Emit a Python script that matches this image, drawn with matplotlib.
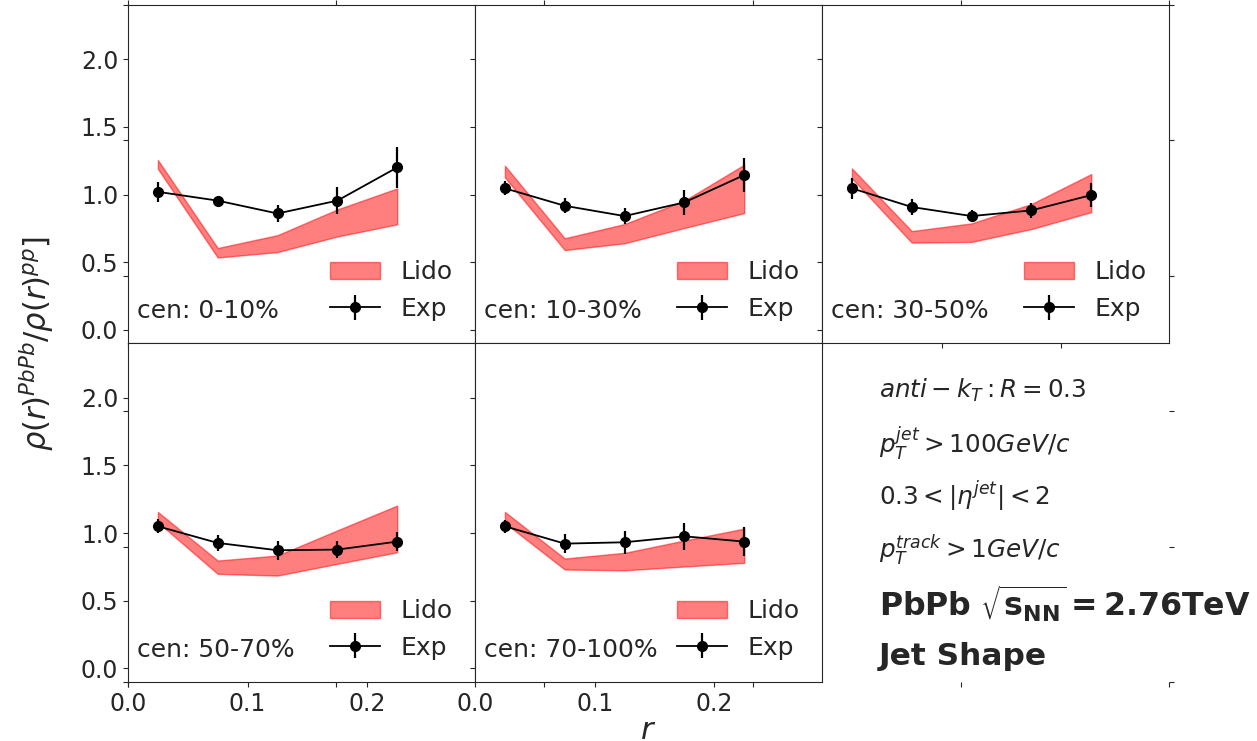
import matplotlib.pyplot as plt
import matplotlib as mpl

# Global text style
mpl.rcParams['font.family'] = 'DejaVu Sans'
mpl.rcParams['font.size'] = 16
mpl.rcParams['text.color'] = '#262626'
mpl.rcParams['axes.labelcolor'] = '#262626'
mpl.rcParams['axes.edgecolor'] = '#262626'
mpl.rcParams['xtick.color'] = '#262626'
mpl.rcParams['ytick.color'] = '#262626'
mpl.rcParams['xtick.labelsize'] = 17
mpl.rcParams['ytick.labelsize'] = 17

r = [0.025, 0.075, 0.125, 0.175, 0.225]

centralities = ['0-10%', '10-30%', '30-50%', '50-70%', '70-100%']

exp_val = [
    [1.02, 0.955, 0.86, 0.955, 1.20],
    [1.046, 0.917, 0.841, 0.942, 1.144],
    [1.046, 0.908, 0.841, 0.883, 0.996],
    [1.05, 0.927, 0.873, 0.878, 0.937],
    [1.05, 0.922, 0.932, 0.976, 0.937],
]
exp_err = [
    [0.076, 0.03, 0.06, 0.10, 0.15],
    [0.053, 0.054, 0.059, 0.094, 0.125],
    [0.076, 0.059, 0.043, 0.053, 0.09],
    [0.052, 0.061, 0.07, 0.061, 0.068],
    [0.05, 0.07, 0.085, 0.10, 0.108],
]

lido_hi = [
    [1.255, 0.605, 0.70, 0.89, 1.045],
    [1.213, 0.677, 0.782, 0.955, 1.22],
    [1.193, 0.73, 0.787, 0.93, 1.151],
    [1.156, 0.797, 0.834, 1.02, 1.203],
    [1.156, 0.812, 0.854, 0.945, 1.033],
]
lido_lo = [
    [1.19, 0.535, 0.575, 0.69, 0.78],
    [1.127, 0.59, 0.64, 0.753, 0.863],
    [1.12, 0.645, 0.65, 0.745, 0.87],
    [1.08, 0.699, 0.686, 0.773, 0.858],
    [1.075, 0.731, 0.725, 0.753, 0.78],
]

info_lines = [
    r'$anti-k_T: R=0.3$',
    r'$p_T^{jet}>100GeV/c$',
    r'$0.3<|\eta^{jet}|<2$',
    r'$p_T^{track}>1GeV/c$',
]

fig, axes = plt.subplots(2, 3, sharex=True, sharey=True, figsize=(12.57, 7.41), dpi=100)
plt.subplots_adjust(left=0.1018, right=0.930, top=0.9933, bottom=0.0796, wspace=0, hspace=0)

for i, cen in enumerate(centralities):
    ax = axes.flat[i]
    ax.fill_between(r, lido_lo[i], lido_hi[i], color='red', alpha=0.5, label='Lido')
    ax.errorbar(r, exp_val[i], yerr=exp_err[i], fmt='o-', color='black',
                markersize=7, linewidth=1.3, elinewidth=1.6, label='Exp')
    ax.text(0.025, 0.075, 'cen: ' + cen, transform=ax.transAxes, fontsize=18)
    ax.legend(loc='lower right', frameon=False, fontsize=18, handlelength=2.0)

ax = axes[0, 0]
ax.set_xlim(0, 0.29)
ax.set_ylim(-0.1, 2.4)
ax.set_xticks([0.0, 0.1, 0.2])
ax.set_yticks([0.0, 0.5, 1.0, 1.5, 2.0])

# Last panel holds the selection cuts
info = axes[1, 2]
info.axis('off')
ys = [0.861, 0.705, 0.546, 0.389]
for y, line in zip(ys, info_lines):
    info.text(0.164, y, line, transform=info.transAxes, va='center', fontsize=17.7)
info.text(0.164, 0.233, r'$\mathbf{PbPb\ \sqrt{s_{NN}}=2.76TeV}$', transform=info.transAxes,
          va='center', fontsize=22.8)
info.text(0.164, 0.074, 'Jet Shape', transform=info.transAxes, va='center',
          fontsize=22.5, fontweight='bold')

# Common axis labels
big = fig.add_subplot(111, frameon=False)
plt.tick_params(labelcolor='none', top='off', bottom='off', left='off', right='off')
big.set_xlabel(r'$r$', fontsize=22, labelpad=0)
big.set_ylabel(r'$\rho(r)^{PbPb}/\rho(r)^{pp}]$', fontsize=22, labelpad=18)

plt.savefig('out.png', dpi=100)
